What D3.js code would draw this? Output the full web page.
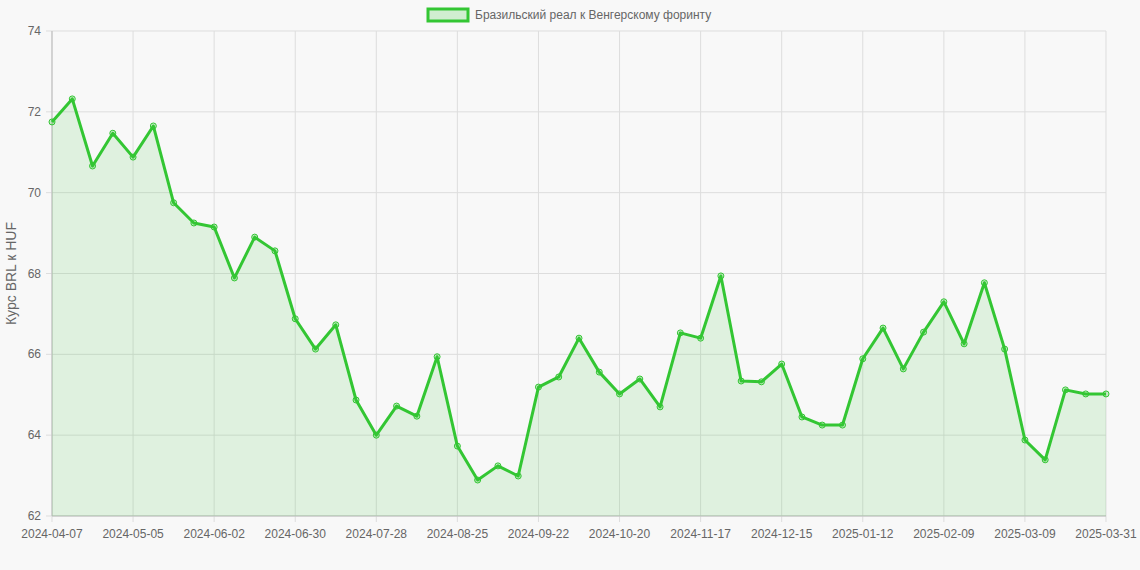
<!DOCTYPE html>
<html><head><meta charset="utf-8">
<script src="https://cdn.jsdelivr.net/npm/d3@7"></script>
<style>body{margin:0;background:#f8f8f8;font-family:"Liberation Sans",Arial,sans-serif}</style>
</head><body><svg id="c" width="1140" height="570"></svg>
<script>
const values=[71.75,72.32,70.66,71.47,70.88,71.65,69.75,69.25,69.15,67.89,68.9,68.56,66.88,66.13,66.73,64.87,64.0,64.72,64.47,65.94,63.73,62.89,63.24,62.99,65.19,65.44,66.4,65.56,65.02,65.39,64.70,66.53,66.40,67.94,65.34,65.32,65.76,64.45,64.25,64.25,65.89,66.65,65.64,66.55,67.3,66.26,67.77,66.13,63.88,63.39,65.12,65.02,65.02];
const tickLabels=["2024-04-07","2024-05-05","2024-06-02","2024-06-30","2024-07-28","2024-08-25","2024-09-22","2024-10-20","2024-11-17","2024-12-15","2025-01-12","2025-02-09","2025-03-09","2025-03-31"];
const tickIndex=[0,4,8,12,16,20,24,28,32,36,40,44,48,52];
const yTicks=[62,64,66,68,70,72,74];
const seriesName="Бразильский реал к Венгерскому форинту";
const yTitle="Курс BRL к HUF";

const svg=d3.select("#c");
const L=52,R=1106,T=31,B=516;
const x=d3.scaleLinear().domain([0,values.length-1]).range([L,R]);
const y=d3.scaleLinear().domain([62,74]).range([B,T]);
const green="#33c633";
// grid
const vt=d3.range(0,values.length,2);
svg.append("g").selectAll("line").data(tickIndex).join("line")
 .attr("x1",d=>x(d)).attr("x2",d=>x(d)).attr("y1",T).attr("y2",B+6).attr("stroke","#ddd");
svg.append("g").selectAll("line").data(yTicks).join("line")
 .attr("x1",L-6).attr("x2",R).attr("y1",d=>y(d)).attr("y2",d=>y(d)).attr("stroke","#ddd");
svg.append("line").attr("x1",L).attr("x2",L).attr("y1",T).attr("y2",B).attr("stroke","#bbb");
svg.append("line").attr("x1",L).attr("x2",R).attr("y1",B).attr("y2",B).attr("stroke","#bbb");
// labels
svg.append("g").selectAll("text").data(yTicks).join("text")
 .attr("x",L-11).attr("y",d=>y(d)+4).attr("text-anchor","end").attr("font-size",12).attr("fill","#666").text(d=>d);
svg.append("g").selectAll("text").data(tickIndex).join("text")
 .attr("x",d=>x(d)).attr("y",B+22).attr("text-anchor","middle").attr("font-size",12).attr("fill","#666").text((d,i)=>tickLabels[i]);
svg.append("text").attr("transform",`translate(16,${(T+B)/2}) rotate(-90)`).attr("text-anchor","middle")
 .attr("font-size",14).attr("fill","#666").text(yTitle);
// area & line
svg.append("path").datum(values).attr("fill","rgba(51,198,51,0.12)")
 .attr("d",d3.area().x((d,i)=>x(i)).y0(B).y1(d=>y(d)));
svg.append("path").datum(values).attr("fill","none").attr("stroke",green).attr("stroke-width",3)
 .attr("stroke-linejoin","round").attr("d",d3.line().x((d,i)=>x(i)).y(d=>y(d)));
svg.append("g").selectAll("circle").data(values).join("circle")
 .attr("cx",(d,i)=>x(i)).attr("cy",d=>y(d)).attr("r",3).attr("fill","rgba(51,198,51,0.25)").attr("stroke",green).attr("stroke-width",1);
// legend
const lg=svg.append("g");
lg.append("rect").attr("x",428).attr("y",9).attr("width",40).attr("height",12).attr("fill","rgba(51,198,51,0.2)").attr("stroke",green).attr("stroke-width",3);
lg.append("text").attr("x",475).attr("y",19).attr("font-size",12).attr("fill","#666").text(seriesName);
</script></body></html>
